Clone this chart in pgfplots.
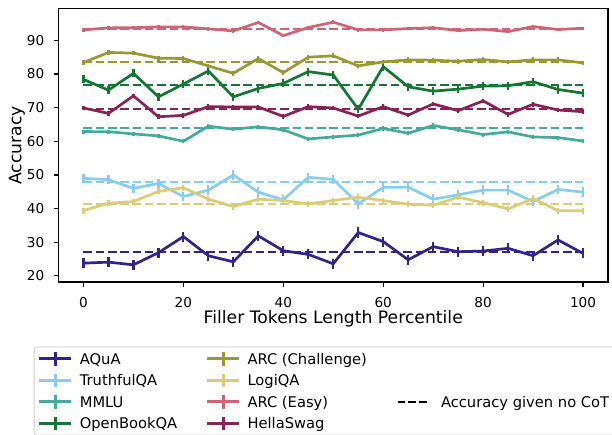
\documentclass[border=0pt]{standalone}
\usepackage{pgfplots}
\pgfplotsset{compat=1.18}
\usepackage{pgfplotstable}
\usepackage{fontspec}
\setmainfont{DejaVu Sans}

\definecolor{cAQ}{HTML}{332288}
\definecolor{cTQ}{HTML}{88CCEE}
\definecolor{cMM}{HTML}{44AA99}
\definecolor{cOB}{HTML}{117733}
\definecolor{cAC}{HTML}{999933}
\definecolor{cLQ}{HTML}{DDCC77}
\definecolor{cAE}{HTML}{CC6677}
\definecolor{cHS}{HTML}{882255}

\pgfplotstableread{
x   aq   tq   mm    ob   ac   lq   ae    hs
0   23.8 49.0 62.9  78.4 83.4 39.4 93.1  69.9
5   24.1 48.6 62.85 75.2 86.4 41.6 93.7  68.3
10  23.3 46.0 62.2  80.2 86.2 42.1 93.75 73.5
15  26.9 47.5 61.6  73.2 84.7 45.1 94.0  67.3
20  31.7 43.6 60.0  77.0 84.6 46.2 94.0  67.7
25  26.0 45.5 64.5  80.9 82.4 42.8 93.4  70.3
30  24.2 50.0 63.6  73.2 80.2 40.6 92.8  70.2
35  31.9 44.9 64.3  75.7 84.6 42.8 95.3  70.2
40  27.5 42.6 63.4  77.2 80.4 42.4 91.4  67.4
45  26.4 49.3 60.7  80.7 85.0 41.4 93.8  70.3
50  23.6 48.7 61.3  79.7 85.4 42.4 95.4  69.9
55  32.9 41.4 61.85 69.5 82.4 43.4 93.1  67.5
60  30.2 46.3 63.8  82.2 83.6 42.4 93.1  70.3
65  24.8 46.4 62.4  76.2 84.2 41.3 93.5  67.8
70  28.7 42.8 64.7  74.9 84.1 41.0 93.75 71.1
75  27.2 44.1 63.4  75.5 83.8 43.4 92.9  69.1
80  27.4 45.5 62.0  76.4 84.3 41.8 93.3  72.0
85  28.2 45.5 62.8  76.5 83.6 39.9 92.6  68.0
90  26.0 42.1 61.3  77.7 84.2 43.0 94.1  71.0
95  30.7 45.7 61.1  75.4 84.2 39.4 93.2  69.3
100 26.7 44.9 60.1  74.3 83.3 39.4 93.6  68.8
}\datatable

\pgfplotstableread{
x   aq   tq   mm   ob   ac   lq   ae   hs
0   27.1 48.0 63.9 76.8 83.6 41.4 93.5 69.6
100 27.1 48.0 63.9 76.8 83.6 41.4 93.5 69.6
}\basetable

\pgfplotsset{
  errcross/.style={
    legend image code/.code={%
      \draw[##1, line width=2.7bp] (0bp,0bp) -- (32bp,0bp);
      \draw[##1, line width=2.7bp] (16bp,-6.8bp) -- (16bp,6.8bp);
    }
  },
  dashleg/.style={
    legend image code/.code={%
      \draw[##1, line width=2bp, dash pattern=on 7.6bp off 3.3bp] (0bp,0bp) -- (32bp,0bp);
    }
  },
  serie/.style 2 args={color=#1, line width=2.7bp, no markers, forget plot,
    error bars/.cd, y dir=both, y fixed=#2, error mark=none,
    error bar style={line width=2.2bp, solid}},
  base/.style={color=#1, line width=2bp, dash pattern=on 8.5bp off 3.8bp, no markers, forget plot},
}
\newcommand{\lgA}[1]{\makebox[133bp][l]{\hspace{7bp}#1}}
\newcommand{\lgB}[1]{\makebox[156bp][l]{\hspace{7bp}#1}}
\newcommand{\lgC}[1]{\makebox[200bp][l]{\hspace{10.5bp}#1}}

\begin{document}
\begin{tikzpicture}
\path[use as bounding box] (0bp,0bp) rectangle (612bp,435bp);
\begin{axis}[
  at={(58.5bp,153bp)}, anchor=south west,
  scale only axis, width=549.5bp, height=273.3bp,
  xmin=-5, xmax=105, ymin=18.2, ymax=99.4,
  xtick={0,20,40,60,80,100}, ytick={20,30,40,50,60,70,80,90},
  tick align=outside, major tick length=4.8bp,
  every tick/.style={line width=1.1bp, black},
  axis line style={line width=1.1bp, black},
  xtick pos=bottom, ytick pos=left,
  /pgf/number format/assume math mode=true,
  ticklabel style={font=\fontsize{13.6bp}{16bp}\selectfont},
  xticklabel style={anchor=base, inner sep=0pt, yshift=-20.7bp},
  yticklabel style={anchor=east, inner sep=0pt, xshift=-9.2bp},
  label style={font=\fontsize{17.2bp}{20bp}\selectfont},
  xlabel={Filler Tokens Length Percentile},
  ylabel={Accuracy},
  xlabel style={at={(axis description cs:0.5,-0.151)}, anchor=base, inner sep=0pt},
  ylabel style={at={(axis description cs:-0.0755,0.5)}, anchor=center, inner sep=0pt},
  legend columns=3,
  legend cell align=left,
  legend style={at={(axis description cs:-0.0451,-0.2367)}, anchor=north west,
    draw=black!20, line width=0.8bp, rounded corners=3bp, fill=white,
    inner xsep=4bp, inner ysep=1bp,
    column sep=0pt, row sep=0pt,
    font=\fontsize{14.7bp}{17bp}\selectfont,
    nodes={inner sep=0pt, text height=16.15bp, text depth=5.35bp}},
]
% baselines (accuracy given no CoT)
\addplot[base=cAQ] table[x=x, y=aq] {\basetable};
\addplot[base=cTQ] table[x=x, y=tq] {\basetable};
\addplot[base=cMM] table[x=x, y=mm] {\basetable};
\addplot[base=cOB] table[x=x, y=ob] {\basetable};
\addplot[base=cAC] table[x=x, y=ac] {\basetable};
\addplot[base=cLQ] table[x=x, y=lq] {\basetable};
\addplot[base=cAE] table[x=x, y=ae] {\basetable};
\addplot[base=cHS] table[x=x, y=hs] {\basetable};
% series with error bars
\addplot[serie={cAQ}{1.5}] table[x=x, y=aq] {\datatable};
\addplot[serie={cTQ}{1.4}] table[x=x, y=tq] {\datatable};
\addplot[serie={cMM}{0.6}] table[x=x, y=mm] {\datatable};
\addplot[serie={cOB}{1.2}] table[x=x, y=ob] {\datatable};
\addplot[serie={cAC}{0.7}] table[x=x, y=ac] {\datatable};
\addplot[serie={cLQ}{0.9}] table[x=x, y=lq] {\datatable};
\addplot[serie={cAE}{0.5}] table[x=x, y=ae] {\datatable};
\addplot[serie={cHS}{0.7}] table[x=x, y=hs] {\datatable};
% legend (row-major)
\addlegendimage{errcross, cAQ}\addlegendentry{\lgA{AQuA}}
\addlegendimage{errcross, cAC}\addlegendentry{\lgB{ARC (Challenge)}}
\addlegendimage{empty legend}\addlegendentry{}
\addlegendimage{errcross, cTQ}\addlegendentry{\lgA{TruthfulQA}}
\addlegendimage{errcross, cLQ}\addlegendentry{\lgB{LogiQA}}
\addlegendimage{empty legend}\addlegendentry{}
\addlegendimage{errcross, cMM}\addlegendentry{\lgA{MMLU}}
\addlegendimage{errcross, cAE}\addlegendentry{\lgB{ARC (Easy)}}
\addlegendimage{dashleg, black}\addlegendentry{\lgC{Accuracy given no CoT}}
\addlegendimage{errcross, cOB}\addlegendentry{\lgA{OpenBookQA}}
\addlegendimage{errcross, cHS}\addlegendentry{\lgB{HellaSwag}}
\addlegendimage{empty legend}\addlegendentry{}
\end{axis}
\end{tikzpicture}
\end{document}
